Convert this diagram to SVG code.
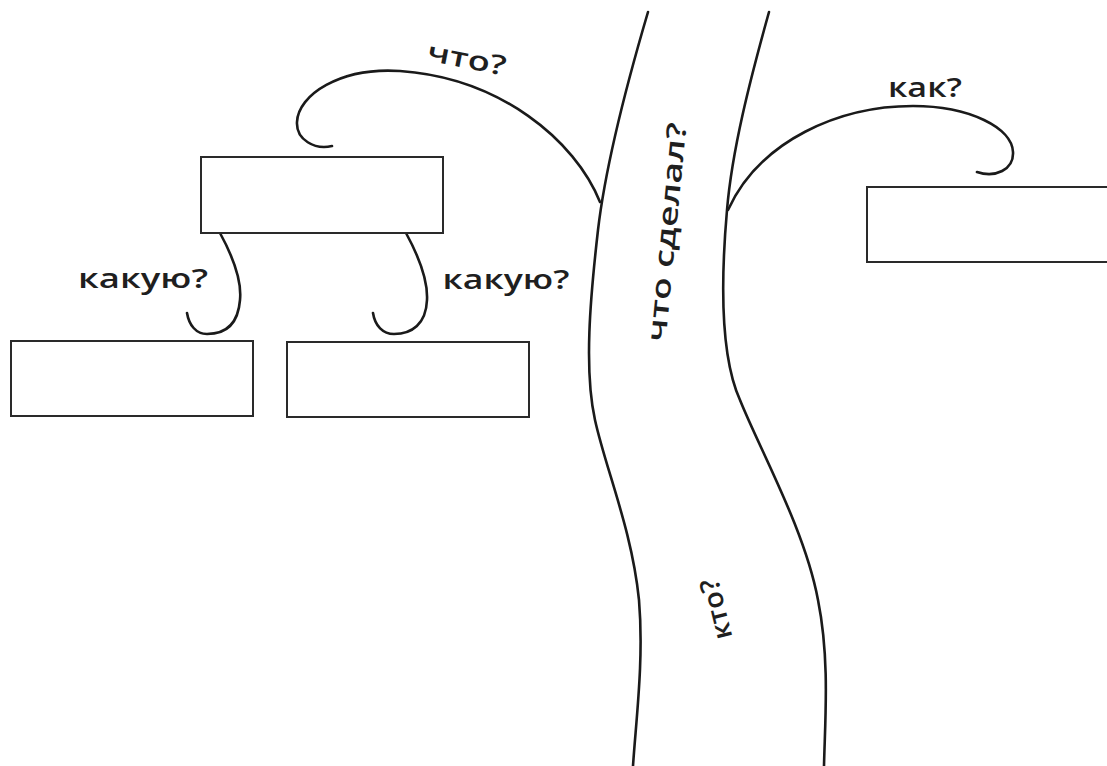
<svg xmlns="http://www.w3.org/2000/svg" width="1107" height="766" viewBox="0 0 1107 766">
  <style>
    .line { fill: none; stroke: #1a1a1a; stroke-width: 2.6; stroke-linecap: round; stroke-linejoin: round; }
    .box { fill: #ffffff; stroke: #2a2a2a; stroke-width: 2; }
    .lbl { font-family: "Open Sans", "Liberation Sans", sans-serif; font-weight: 600; font-size: 27px; fill: #1f1f1f; }
  </style>
  <rect x="0" y="0" width="1107" height="766" fill="#ffffff"/>

  <g id="connectors">
    <path id="trunk-left" class="line" d="M648,12 C625,90 605,170 598,230 C590,300 584,370 595,420 C606,470 632,530 639,600 C644,660 636,720 633,766"/>
    <path id="trunk-right" class="line" d="M769,12 C750,80 732,150 727,210 C720,290 722,360 740,400 C760,450 805,530 818,600 C830,660 825,720 824,766"/>
    <path id="branch-what" class="line" d="M600,202 C575,140 500,78 400,71 C340,67 298,95 297,122 C296,140 315,150 332,146"/>
    <path id="branch-how" class="line" d="M728,210 C760,140 840,106 913,106 C970,106 1012,128 1013,152 C1014,170 995,178 977,172"/>
    <path id="hook-left" class="line" d="M220,233 C232,255 242,280 240,300 C238,325 225,334 207,334 C196,334 189,325 187,313"/>
    <path id="hook-right" class="line" d="M406,233 C418,255 428,280 427,300 C426,324 412,334 394,334 C383,334 375,326 373,313"/>
  </g>

  <g id="node-top">
    <rect class="box" x="201" y="157" width="242" height="76"/>
  </g>
  <g id="node-bottom-left">
    <rect class="box" x="11" y="341" width="242" height="75"/>
  </g>
  <g id="node-bottom-mid">
    <rect class="box" x="287" y="342" width="242" height="75"/>
  </g>
  <g id="node-right">
    <rect class="box" x="867" y="187" width="260" height="75"/>
  </g>

  <g id="labels">
    <text class="lbl" x="465" y="68" text-anchor="middle" textLength="80" lengthAdjust="spacingAndGlyphs" transform="rotate(11 465 68)">что?</text>
    <text class="lbl" x="925" y="97" text-anchor="middle" textLength="74" lengthAdjust="spacingAndGlyphs">как?</text>
    <text class="lbl" x="143" y="288" text-anchor="middle" textLength="130" lengthAdjust="spacingAndGlyphs">какую?</text>
    <text class="lbl" x="506" y="289" text-anchor="middle" textLength="127" lengthAdjust="spacingAndGlyphs">какую?</text>
    <text class="lbl" x="676" y="233" text-anchor="middle" textLength="220" lengthAdjust="spacingAndGlyphs" font-weight="500" font-size="29" transform="rotate(-84.5 676 233)">что сделал?</text>
    <text class="lbl" x="725" y="607" text-anchor="middle" textLength="62" lengthAdjust="spacingAndGlyphs" font-weight="700" font-size="24" transform="rotate(-104 725 607)">кто?</text>
  </g>
</svg>
